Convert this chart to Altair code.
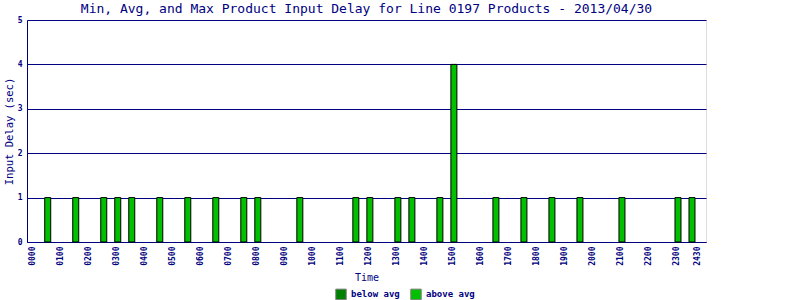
import altair as alt
import pandas as pd

# Data
times = ["0030", "0130", "0230", "0300", "0330", "0430", "0530", "0630", "0730", "0800",
         "0930", "1130", "1200", "1300", "1330", "1430", "1500", "1630", "1730", "1830",
         "1930", "2100", "2300", "2330"]
delays = [1, 1, 1, 1, 1, 1, 1, 1, 1, 1,
          1, 1, 1, 1, 1, 1, 4, 1, 1, 1,
          1, 1, 1, 1]
groups = ["above avg"] * len(times)

tick_values = list(range(0, 24)) + [23.72]
tick_labels = ["%02d00" % h for h in range(0, 24)] + ["2430"]

legend_domain = ["below avg", "above avg"]
legend_colors = ["#008000", "#00C000"]

hours = [int(t[:2]) + int(t[2:]) / 60.0 for t in times]
df = pd.DataFrame({"hour": hours, "time": times, "delay": delays, "group": groups})

label_expr = "''"
for v, l in reversed(list(zip(tick_values, tick_labels))):
    label_expr = f"datum.value == {v} ? '{l}' : ({label_expr})"

NAVY = "#000080"
FONT = "DejaVu Sans Mono"

chart = alt.Chart(df).mark_bar(size=6, stroke="black", strokeWidth=1).encode(
    x=alt.X("hour:Q",
            scale=alt.Scale(domain=[-0.24, 24.0], nice=False, zero=False, padding=0),
            axis=alt.Axis(values=tick_values, labelExpr=label_expr, labelAngle=270,
                          grid=False, ticks=False, labelPadding=4, labelOffset=-1,
                          labelFont=FONT, labelFontSize=8, labelFontWeight="bold",
                          labelColor=NAVY, domainColor=NAVY,
                          title="Time", titleFont=FONT, titleFontSize=10,
                          titleFontWeight="normal", titleColor=NAVY,
                          titleY=35, titleBaseline="middle",
                          labelOverlap=False, labelBound=False, labelFlush=False)),
    y=alt.Y("delay:Q",
            scale=alt.Scale(domain=[0, 5], nice=False),
            axis=alt.Axis(values=[0, 1, 2, 3, 4, 5], format="d", grid=True,
                          gridColor=NAVY, gridOpacity=1, ticks=False, labelPadding=5,
                          labelFont=FONT, labelFontSize=8, labelFontWeight="bold",
                          labelColor=NAVY, domainColor=NAVY,
                          title="Input Delay (sec)", titleFont=FONT, titleFontSize=10.5,
                          titleFontWeight="normal", titleColor=NAVY,
                          titleX=-18, titleBaseline="middle")),
    color=alt.Color("group:N",
                    scale=alt.Scale(domain=legend_domain, range=legend_colors),
                    legend=alt.Legend(title=None, orient="none", direction="horizontal",
                                      legendX=308, legendY=268,
                                      symbolType="square", symbolSize=110,
                                      symbolStrokeColor="#808080", symbolStrokeWidth=1,
                                      labelFont=FONT, labelFontSize=9, labelFontWeight="bold",
                                      labelColor=NAVY, labelOffset=4, columnPadding=8)),
).properties(
    width=679,
    height=222,
    title=alt.TitleParams("Min, Avg, and Max Product Input Delay for Line 0197 Products - 2013/04/30",
                          font=FONT, fontSize=13, fontWeight="normal", color=NAVY,
                          anchor="middle", offset=0),
    autosize=alt.AutoSizeParams(type="none"),
    padding={"left": 27, "top": 20, "right": 94, "bottom": 58},
).configure_view(stroke=NAVY, strokeWidth=1).configure(background="white")

chart.save("out.html", embed_options={"renderer": "svg", "actions": False})
